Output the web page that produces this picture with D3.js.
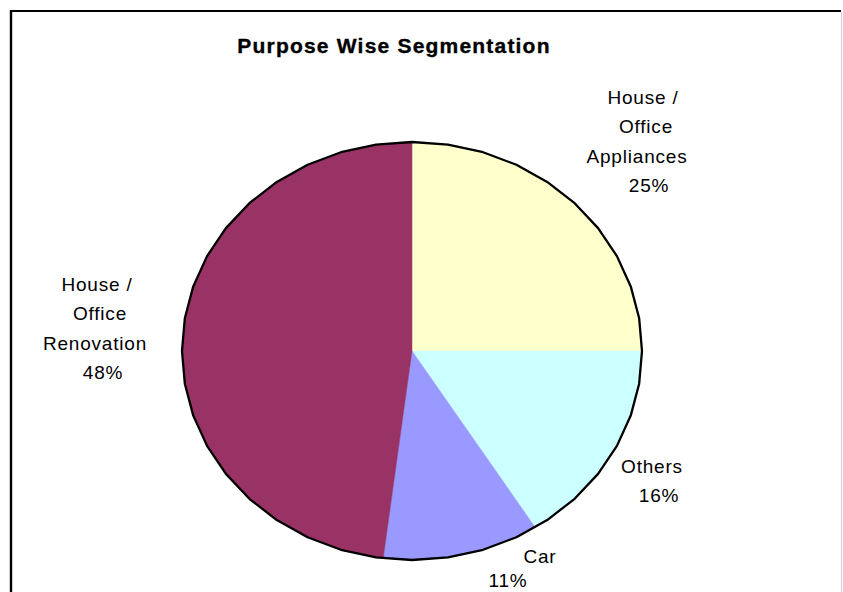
<!DOCTYPE html>
<html>
<head>
<meta charset="utf-8">
<script src="https://cdn.jsdelivr.net/npm/d3@7"></script>
<style>
  html, body { margin: 0; padding: 0; background: #ffffff; }
  svg { display: block; }
  text { font-family: "Liberation Sans", Arial, sans-serif; fill: #000; }
</style>
</head>
<body>
<svg id="chart" width="843" height="592"></svg>
<script>
// Segment shares (percent), clockwise from 12 o'clock
const categories = ["House / Office Appliances", "Others", "Car", "House / Office Renovation"];
const shares = [25, 16, 11, 48];
const colors = ["#FFFFCC", "#CCFFFF", "#9999FF", "#993366"];
// Label lines for each segment
const labelLines = [
  ["House /", "Office", "Appliances", "25%"],
  ["Others", "16%"],
  ["Car", "11%"],
  ["House /", "Office", "Renovation", "48%"]
];

const svg = d3.select("#chart");

// Frame
svg.append("line").attr("x1", 10).attr("y1", 11).attr("x2", 841).attr("y2", 11)
  .attr("stroke", "#000").attr("stroke-width", 2.2);
svg.append("line").attr("x1", 11).attr("y1", 10).attr("x2", 11).attr("y2", 592)
  .attr("stroke", "#000").attr("stroke-width", 2.4);
svg.append("line").attr("x1", 841.5).attr("y1", 12).attr("x2", 841.5).attr("y2", 592)
  .attr("stroke", "#d4d4d4").attr("stroke-width", 1.2);

// Title
svg.append("text")
  .attr("x", 394).attr("y", 52.5)
  .attr("text-anchor", "middle")
  .style("font-size", "21px").style("font-weight", "bold").style("letter-spacing", "1.2px")
  .style("stroke", "#000").style("stroke-width", "0.35px")
  .text("Purpose Wise Segmentation");

// Pie geometry (slightly flattened ellipse, faceted outline)
const cx = 412, cy = 351, rx = 230, ry = 209;
const step = Math.PI * 2 / 40;
const pt = a => [cx + rx * Math.sin(a), cy - ry * Math.cos(a)];

const arcs = d3.pie().sort(null).value(d => d)(shares);
const line = d3.line();

const slicePath = d => {
  const pts = [[cx, cy], pt(d.startAngle)];
  let a = Math.ceil(d.startAngle / step + 1e-9) * step;
  while (a < d.endAngle - 1e-9) { pts.push(pt(a)); a += step; }
  pts.push(pt(d.endAngle));
  return line(pts) + "Z";
};

svg.append("g").selectAll("path")
  .data(arcs)
  .join("path")
  .attr("d", slicePath)
  .attr("fill", (d, i) => colors[i])
  .attr("stroke", (d, i) => colors[i])
  .attr("stroke-width", 0.5);

// Outer outline
const rim = d3.range(0, 40).map(i => pt(i * step));
svg.append("path")
  .attr("d", line(rim) + "Z")
  .attr("fill", "none")
  .attr("stroke", "#000")
  .attr("stroke-width", 2.3)
  .attr("stroke-linejoin", "round");

// Labels: per-line centre positions
const labelPos = [
  { xs: [643, 646, 637, 649], y0: 103.5, dy: 29.5 },
  { xs: [652, 659], y0: 472.5, dy: 29.5 },
  { xs: [540, 508], y0: 562.5, dy: 24.5 },
  { xs: [97, 100, 95, 103], y0: 290.5, dy: 29.5 }
];

const lg = svg.append("g");
labelLines.forEach((lines, i) => {
  const p = labelPos[i];
  lines.forEach((t, j) => {
    lg.append("text")
      .attr("x", p.xs[j]).attr("y", p.y0 + j * p.dy)
      .attr("text-anchor", "middle")
      .style("font-size", "19px").style("letter-spacing", "0.8px")
      .text(t);
  });
});
</script>
</body>
</html>
